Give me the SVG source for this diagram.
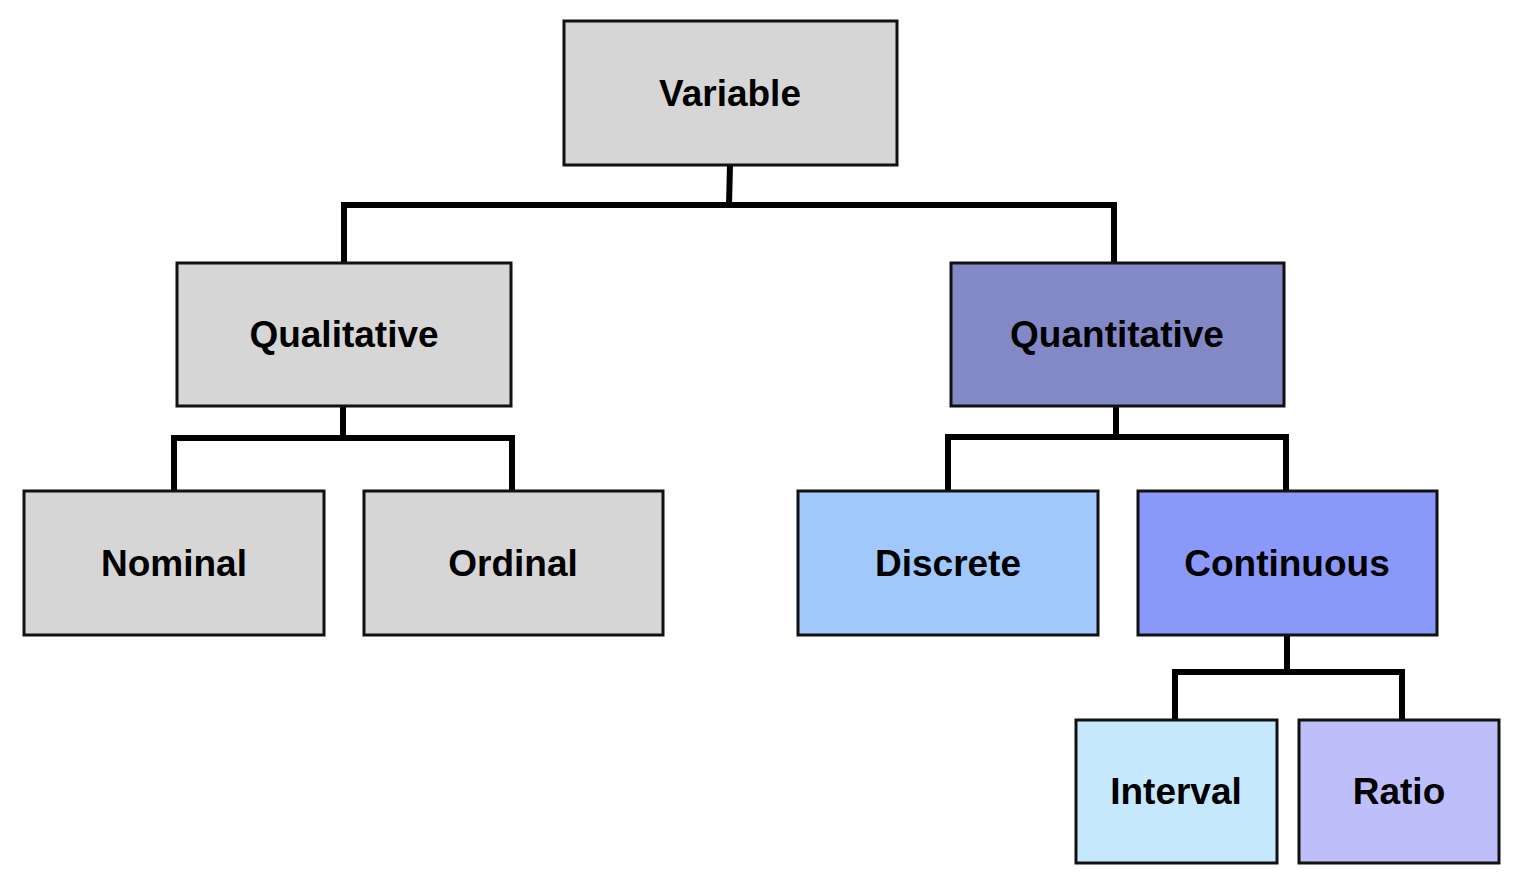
<svg xmlns="http://www.w3.org/2000/svg" width="1528" height="876" viewBox="0 0 1528 876">
<style>
.box{stroke:#111;stroke-width:3}
.lbl{font-family:"Liberation Sans",Arial,sans-serif;font-weight:bold;font-size:37px;fill:#000;text-anchor:middle}
.conn{fill:none;stroke:#000;stroke-width:6;stroke-linejoin:miter;stroke-linecap:butt}
</style>
<rect width="1528" height="876" fill="#fff"/>
<g id="connectors">
<path class="conn" d="M730 165 L729 205 M344 262 L344 205 L1114 205 L1114 262"/>
<path class="conn" d="M343 406 L343 438 M174 491 L174 438 L512 438 L512 491"/>
<path class="conn" d="M1116 406 L1116 437 M948 491 L948 437 L1286 437 L1286 494"/>
<path class="conn" d="M1287 635 L1287 672 M1175 720 L1175 672 L1402 672 L1402 720"/>
</g>
<g id="variable"><rect class="box" x="564" y="21" width="333" height="144" fill="#d6d6d6"/><text class="lbl" x="730" y="106">Variable</text></g>
<g id="qualitative"><rect class="box" x="177" y="263" width="334" height="143" fill="#d6d6d6"/><text class="lbl" x="344" y="347">Qualitative</text></g>
<g id="quantitative"><rect class="box" x="951" y="263" width="333" height="143" fill="#8289c6"/><text class="lbl" x="1117" y="347">Quantitative</text></g>
<g id="nominal"><rect class="box" x="24" y="491" width="300" height="144" fill="#d6d6d6"/><text class="lbl" x="174" y="576">Nominal</text></g>
<g id="ordinal"><rect class="box" x="364" y="491" width="299" height="144" fill="#d6d6d6"/><text class="lbl" x="513" y="576">Ordinal</text></g>
<g id="discrete"><rect class="box" x="798" y="491" width="300" height="144" fill="#a0c8fa"/><text class="lbl" x="948" y="576">Discrete</text></g>
<g id="continuous"><rect class="box" x="1138" y="491" width="299" height="144" fill="#8a98fa"/><text class="lbl" x="1287" y="576">Continuous</text></g>
<g id="interval"><rect class="box" x="1076" y="720" width="201" height="143" fill="#c6e8fc"/><text class="lbl" x="1176" y="804">Interval</text></g>
<g id="ratio"><rect class="box" x="1299" y="720" width="200" height="143" fill="#bebefa"/><text class="lbl" x="1399" y="804">Ratio</text></g>
</svg>
